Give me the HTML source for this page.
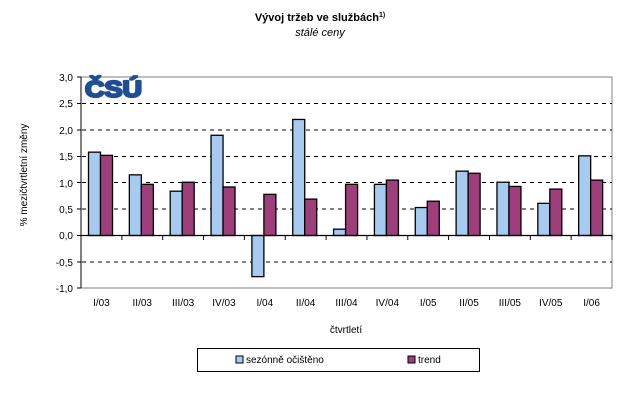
<!DOCTYPE html>
<html><head><meta charset="utf-8"><style>
body{margin:0;background:#fff;}
svg{display:block;font-family:"Liberation Sans",sans-serif;}
</style></head><body>
<svg width="641" height="411" xmlns="http://www.w3.org/2000/svg">
<text x="320" y="21" text-anchor="middle" font-size="11" font-weight="bold">Vývoj tržeb ve službách<tspan font-size="7" dy="-4">1)</tspan></text>
<text x="320" y="36" text-anchor="middle" font-size="11" font-style="italic">stálé ceny</text>
<polyline points="81,77 612,77 612,288 81,288" fill="none" stroke="#999" stroke-width="1.2"/>
<g stroke="#000" stroke-dasharray="4,4" stroke-width="1">
<line x1="82" x2="612" y1="103.5" y2="103.5"/>
<line x1="82" x2="612" y1="130" y2="130"/>
<line x1="82" x2="612" y1="156.5" y2="156.5"/>
<line x1="82" x2="612" y1="182.5" y2="182.5"/>
<line x1="82" x2="612" y1="209" y2="209"/>
<line x1="82" x2="612" y1="262" y2="262"/>
</g>
<text x="85" y="97" font-size="23" font-weight="bold" fill="#1f4e96" stroke="#1f4e96" stroke-width="2.2" stroke-linejoin="round" textLength="57" lengthAdjust="spacingAndGlyphs" font-family="Liberation Sans, sans-serif">ČSÚ</text>
<g id="bars" stroke="#000" stroke-width="1.3"></g>
<line x1="81" y1="77" x2="81" y2="288" stroke="#000"/>
<line x1="81" y1="235.5" x2="612" y2="235.5" stroke="#000" stroke-width="1.3"/>
<g id="ticks" stroke="#000"></g>
<g font-size="10" text-anchor="end">
<text x="73" y="81">3,0</text><text x="73" y="107">2,5</text><text x="73" y="134">2,0</text>
<text x="73" y="160">1,5</text><text x="73" y="187">1,0</text><text x="73" y="213">0,5</text>
<text x="73" y="239">0,0</text><text x="73" y="266">-0,5</text><text x="73" y="292">-1,0</text>
</g>
<g id="labels" font-size="10" text-anchor="middle"></g>
<text transform="translate(27,175) rotate(-90)" text-anchor="middle" font-size="10">% mezičtvrtletní změny</text>
<text x="346" y="333" text-anchor="middle" font-size="10">čtvrtletí</text>
<rect x="197.5" y="348.5" width="282" height="23" fill="none" stroke="#000"/>
<rect x="236" y="356" width="7" height="7" fill="#a6caf0" stroke="#000"/>
<text x="246" y="363" font-size="10">sezónně očištěno</text>
<rect x="408" y="356" width="7" height="7" fill="#9e3f7c" stroke="#000"/>
<text x="418" y="363" font-size="10">trend</text>
</svg>
<script>
var a=[1.58,1.15,0.84,1.9,-0.78,2.2,0.12,0.97,0.53,1.22,1.01,0.61,1.51];
var b=[1.52,0.97,1.01,0.92,0.78,0.69,0.97,1.05,0.65,1.18,0.93,0.88,1.05];
var L=["I/03","II/03","III/03","IV/03","I/04","II/04","III/04","IV/04","I/05","II/05","III/05","IV/05","I/06"];
var ns="http://www.w3.org/2000/svg",w=531/13,z=235.5,s=52.75;
function el(p,t,at,tx){var e=document.createElementNS(ns,t);for(var k in at)e.setAttribute(k,at[k]);if(tx)e.textContent=tx;document.getElementById(p).appendChild(e);}
for(var i=0;i<13;i++){var x=81+i*w;
[[a[i],"#a6caf0",7.5],[b[i],"#9e3f7c",19.5]].forEach(function(v){var y=z-Math.max(v[0],0)*s,h=Math.abs(v[0])*s;el("bars","rect",{x:x+v[2],y:y,width:12,height:h,fill:v[1]});});
el("ticks","line",{x1:x+w,x2:x+w,y1:235,y2:240});
el("labels","text",{x:x+w/2,y:306},L[i]);}
["77","103.5","130","156.5","182.5","209","235.5","262","288"].forEach(function(y){el("ticks","line",{x1:77,x2:81,y1:y,y2:y});});
</script>
</body></html>
